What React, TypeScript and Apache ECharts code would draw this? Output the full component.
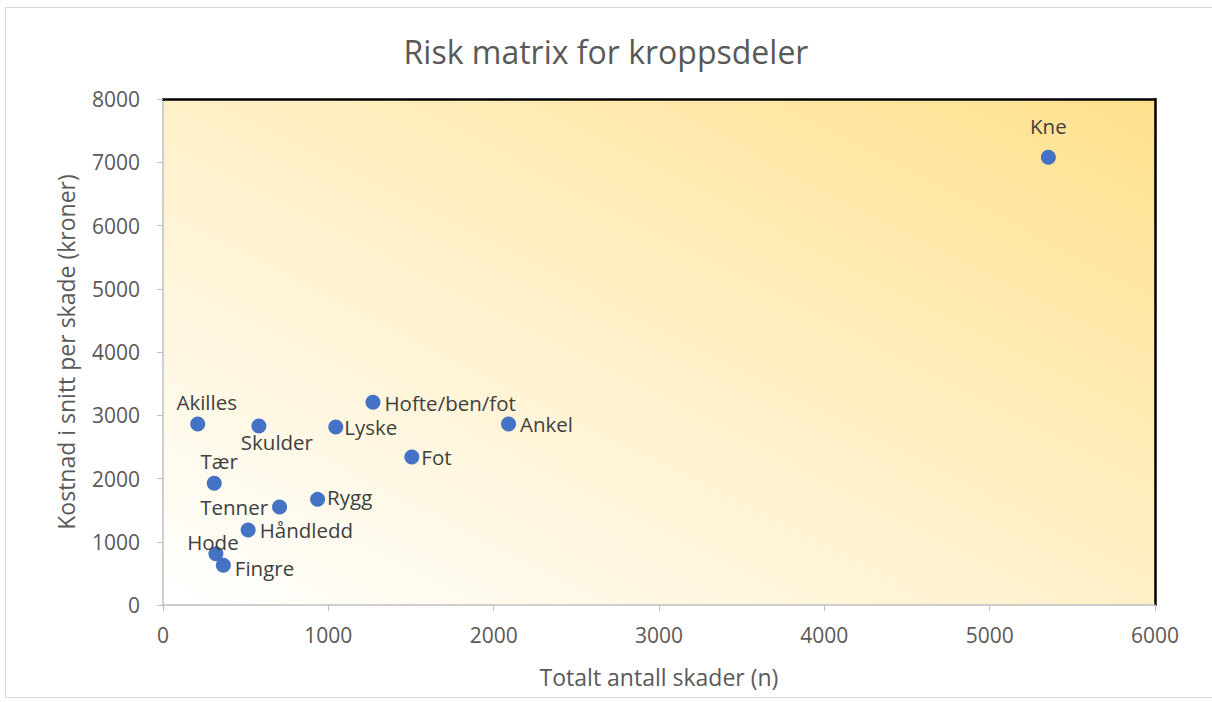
import React, { useEffect, useRef } from "react";
import * as echarts from "echarts";

const names = ["Kne", "Akilles", "Skulder", "Lyske", "Hofte/ben/fot", "Ankel", "Fot", "Tær", "Rygg", "Tenner", "Håndledd", "Hode", "Fingre"];
const totalInjuries = [5355, 210, 580, 1045, 1270, 2090, 1505, 310, 935, 705, 515, 320, 365];
const avgCost = [7080, 2860, 2830, 2815, 3205, 2860, 2340, 1925, 1670, 1550, 1185, 810, 630];
const labelPositions = ["top", "top", "bottom", "right", "right", "right", "right", "top", "right", "left", "right", "top", "right"];
const labelOffsets: number[][] = [[0, -9], [9, 0], [18, -6], [-3, 0], [0, 1], [0, 0], [-2, 0], [5, 0], [-2, -2], [0, 0], [0, 0], [-3, 10], [0, 3]];

export default function App() {
  const ref = useRef<HTMLDivElement>(null);
  useEffect(() => {
    const chart = echarts.init(ref.current!, null, { renderer: "svg" });
    const font = "'Open Sans', 'Noto Sans', sans-serif";
    const data = names.map((n, i) => ({
      name: n,
      value: [totalInjuries[i], avgCost[i]],
      label: { position: labelPositions[i], offset: labelOffsets[i] },
    }));
    chart.setOption({
      animation: false,
      backgroundColor: "#ffffff",
      textStyle: { fontFamily: font },
      title: {
        text: "Risk matrix for kroppsdeler",
        left: "center",
        top: 30,
        textStyle: { fontFamily: font, fontSize: 32, fontWeight: "normal", color: "#595959" },
      },
      graphic: [
        {
          type: "rect",
          shape: { x: 5.5, y: 7.5, width: 1220, height: 690 },
          style: { fill: "none", stroke: "#d9d9d9", lineWidth: 1 },
          silent: true,
        },
      ],
      grid: {
        left: 163,
        right: 57,
        top: 99,
        bottom: 97,
        show: true,
        borderWidth: 0,
        backgroundColor: {
          type: "linear",
          x: 0,
          y: 1,
          x2: 1,
          y2: 0,
          colorStops: [
            { offset: 0, color: "#ffffff" },
            { offset: 0.5, color: "#fff0c8" },
            { offset: 1, color: "#ffe08c" },
          ],
        },
      },
      xAxis: [
        {
          type: "value",
          min: 0,
          max: 6000,
          interval: 1000,
          name: "Totalt antall skader (n)",
          nameLocation: "middle",
          nameGap: 60,
          nameMoveOverlap: false,
          nameTextStyle: { fontFamily: font, fontSize: 23, color: "#595959" },
          axisLine: { show: true, onZero: false, lineStyle: { color: "#bfbfbf", width: 1.5 } },
          axisTick: { show: true, length: 6, lineStyle: { color: "#bfbfbf" } },
          axisLabel: { margin: 19, fontFamily: font, fontSize: 21, color: "#595959", formatter: (v: number) => String(v) },
          splitLine: { show: false },
        },
        {
          type: "value",
          position: "top",
          min: 0,
          max: 6000,
          axisLine: { show: true, onZero: false, lineStyle: { color: "#000000", width: 2.5 } },
          axisTick: { show: false },
          axisLabel: { show: false },
          splitLine: { show: false },
        },
      ],
      yAxis: [
        {
          type: "value",
          min: 0,
          max: 8000,
          interval: 1000,
          name: "Kostnad i snitt per skade (kroner)",
          nameLocation: "middle",
          nameGap: 86,
          nameMoveOverlap: false,
          nameTextStyle: { fontFamily: font, fontSize: 23, color: "#595959" },
          axisLine: { show: true, onZero: false, lineStyle: { color: "#bfbfbf", width: 1.5 } },
          axisTick: { show: true, length: 6, lineStyle: { color: "#bfbfbf" } },
          axisLabel: { margin: 23, fontFamily: font, fontSize: 21, color: "#595959", formatter: (v: number) => String(v) },
          splitLine: { show: false },
        },
        {
          type: "value",
          position: "right",
          min: 0,
          max: 8000,
          axisLine: { show: true, onZero: false, lineStyle: { color: "#000000", width: 2.5 } },
          axisTick: { show: false },
          axisLabel: { show: false },
          splitLine: { show: false },
        },
      ],
      series: [
        {
          type: "scatter",
          symbolSize: 15,
          itemStyle: { color: "#4472c4", opacity: 1 },
          label: {
            show: true,
            formatter: "{b}",
            fontFamily: font,
            fontSize: 20.5,
            color: "#404040",
            distance: 4,
          },
          data,
        },
      ],
    });
    return () => chart.dispose();
  }, []);
  return <div ref={ref} style={{ position: "fixed", left: 0, top: 0, width: 1212, height: 702 }} />;
}
